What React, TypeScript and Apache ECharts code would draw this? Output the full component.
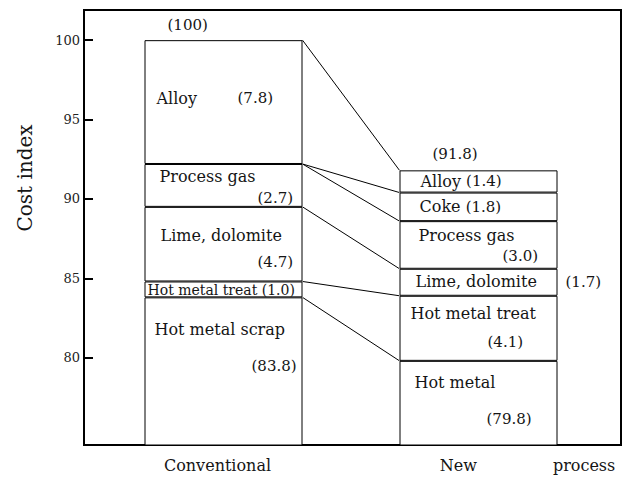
import React, { useEffect, useRef } from 'react';
import * as echarts from 'echarts';

// ---------- data ----------
const categories = ['Conventional', 'New process'];
const segmentNames = ['Hot metal scrap', 'Hot metal', 'Hot metal treat', 'Lime, dolomite', 'Process gas', 'Coke', 'Alloy'];
const conventionalValues: (number | null)[] = [83.8, null, 1.0, 4.7, 2.7, null, 7.8];
const newProcessValues: (number | null)[] = [null, 79.8, 4.1, 1.7, 3.0, 1.8, 1.4];
const yTickValues = [80, 85, 90, 95, 100];
const yMin = 74.5;
const yMax = 101.9;
// connector lines: top of segment in Conventional -> top of segment in New process
const linkPairs: [string, string][] = [
  ['Alloy', 'Alloy'],
  ['Process gas', 'Coke'],
  ['Process gas', 'Process gas'],
  ['Lime, dolomite', 'Lime, dolomite'],
  ['Hot metal treat', 'Hot metal treat'],
  ['Hot metal scrap', 'Hot metal'],
];

// ---------- style ----------
const FONT = '"DejaVu Serif", "Liberation Serif", serif';
const INK = '#151515';
const BAR_W = 158;
const NAME_SIZE = 16;
const VALUE_SIZE = 15;

type LabelSpec = { dx: number; cy: number; vdx?: number; vcy?: number; size?: number; joined?: boolean } | null;
const labelLayout: Record<string, [LabelSpec, LabelSpec]> = {
  'Hot metal scrap': [{ dx: 10, cy: 32, vdx: 107, vcy: 69 }, null],
  'Hot metal': [null, { dx: 15, cy: 22, vdx: 87, vcy: 58 }],
  'Hot metal treat': [{ dx: 3, cy: 9, size: 14, joined: true }, { dx: 11, cy: 18, vdx: 88, vcy: 46 }],
  'Lime, dolomite': [{ dx: 16, cy: 29, vdx: 113, vcy: 55 }, { dx: 16, cy: 13, vdx: 166, vcy: 13 }],
  'Process gas': [{ dx: 15, cy: 13, vdx: 113, vcy: 34 }, { dx: 19, cy: 14, vdx: 103, vcy: 35 }],
  'Coke': [null, { dx: 20, cy: 14, joined: true }],
  'Alloy': [{ dx: 12, cy: 58, vdx: 93, vcy: 58 }, { dx: 21, cy: 11, joined: true }],
};
const totalDx = [23, 33];
const totalDy = [-15, -16];

function fmt(v: number) {
  const r = Math.round(v * 10) / 10;
  return Number.isInteger(r) ? String(r) : r.toFixed(1);
}

function buildLabel(name: string, value: number, spec: LabelSpec) {
  if (!spec) return { show: false };
  const vText = `(${value.toFixed(1)})`;
  const nStyle = { fontFamily: FONT, fontSize: spec.size ?? NAME_SIZE, color: INK };
  const vStyle = { fontFamily: FONT, fontSize: spec.size ?? VALUE_SIZE, color: INK };
  const common = { show: true, position: 'insideTopLeft', distance: 0, color: INK, textBorderWidth: 0 };
  if (spec.joined) {
    const L = 20;
    return {
      ...common,
      offset: [spec.dx, spec.cy - L / 2],
      formatter: `{n|${name} }{v|${vText}}`,
      rich: { n: { ...nStyle, lineHeight: L }, v: { ...vStyle, lineHeight: L } },
    };
  }
  if (spec.vcy === spec.cy) {
    const L = 20;
    return {
      ...common,
      offset: [spec.dx, spec.cy - L / 2],
      formatter: `{n|${name}}{v|${vText}}`,
      rich: { n: { ...nStyle, lineHeight: L, width: (spec.vdx as number) - spec.dx }, v: { ...vStyle, lineHeight: L } },
    };
  }
  const L = (spec.vcy as number) - spec.cy;
  return {
    ...common,
    offset: [spec.dx, spec.cy - L / 2],
    formatter: `{n|${name}}\n{v|${vText}}`,
    rich: {
      n: { ...nStyle, lineHeight: L },
      v: { ...vStyle, lineHeight: L, padding: [0, 0, 0, (spec.vdx as number) - spec.dx] },
    },
  };
}

export default function App() {
  const ref = useRef<HTMLDivElement>(null);

  useEffect(() => {
    document.body.style.margin = '0';
    if (!ref.current) return;
    const chart = echarts.init(ref.current, null, { renderer: 'svg' });

    const columns = [conventionalValues, newProcessValues];
    // segment tops per category
    const tops: Record<string, number>[] = columns.map((col) => {
      let acc = 0;
      const t: Record<string, number> = {};
      segmentNames.forEach((n, i) => {
        const v = col[i];
        if (v != null) {
          acc += v;
          t[n] = acc;
        }
      });
      return t;
    });
    const totals = columns.map((col) => col.reduce((s: number, v) => s + (v ?? 0), 0));
    const linkData = linkPairs.map(([a, b]) => [0, tops[0][a], tops[1][b]]);

    const barSeries = segmentNames.map((name, si) => ({
      name,
      type: 'bar',
      stack: 'cost',
      xAxisIndex: 1,
      yAxisIndex: 1,
      barWidth: BAR_W,
      clip: true,
      itemStyle: { color: '#ffffff', borderColor: '#000', borderWidth: 1 },
      emphasis: { disabled: true },
      data: columns.map((col, ci) => {
        const v = col[si];
        if (v == null) return '-';
        return { value: v, label: buildLabel(name, v, labelLayout[name][ci]) };
      }),
    }));

    const nameParts = categories[1].split(' ');

    chart.setOption({
      animation: false,
      backgroundColor: '#ffffff',
      grid: [
        { left: 84, right: 8, top: 10, bottom: 36, show: true, borderColor: '#000', borderWidth: 2, backgroundColor: 'transparent' },
        { left: 96, right: 23, top: 10, bottom: 36 },
      ],
      xAxis: [
        { gridIndex: 0, type: 'category', show: false, data: [] },
        {
          gridIndex: 1,
          type: 'category',
          data: categories,
          axisLine: { show: false },
          axisTick: { show: false },
          axisLabel: {
            margin: 12,
            color: INK,
            formatter: (v: string) => (v === categories[0] ? `{a|${v}}` : `{b|${nameParts[0]}}{c|${nameParts.slice(1).join(' ')}}`),
            rich: {
              a: { fontFamily: FONT, fontSize: 16, color: INK, padding: [0, 12, 0, 0] },
              b: { fontFamily: FONT, fontSize: 16, color: INK, padding: [0, 0, 0, 98] },
              c: { fontFamily: FONT, fontSize: 16, color: INK, padding: [0, 0, 0, 76] },
            },
          },
        },
      ],
      yAxis: [
        {
          gridIndex: 0,
          type: 'value',
          min: yMin,
          max: yMax,
          axisLine: { show: true, lineStyle: { color: '#000', width: 2 } },
          axisTick: { show: true, inside: true, length: 9, lineStyle: { color: '#000', width: 2 }, customValues: yTickValues },
          axisLabel: { customValues: yTickValues, fontFamily: FONT, fontSize: 13, color: '#222', margin: 4 },
          splitLine: { show: false },
        },
        { gridIndex: 1, type: 'value', min: yMin, max: yMax, show: false, splitLine: { show: false } },
      ],
      graphic: [
        {
          type: 'text',
          x: 25,
          y: 178,
          rotation: Math.PI / 2,
          style: { text: 'Cost index', font: `20px ${FONT}`, fill: INK, textAlign: 'center', textVerticalAlign: 'middle' },
        },
      ],
      series: [
        ...barSeries,
        {
          type: 'custom',
          name: 'links',
          xAxisIndex: 1,
          yAxisIndex: 1,
          z: 5,
          silent: true,
          encode: { x: 0, y: 1 },
          data: linkData,
          renderItem: (params: any, api: any) => {
            const a = api.coord([0, api.value(1)]);
            const b = api.coord([1, api.value(2)]);
            return {
              type: 'line',
              shape: { x1: a[0] + BAR_W / 2, y1: a[1], x2: b[0] - BAR_W / 2, y2: b[1] },
              style: { stroke: '#000', lineWidth: 1 },
            };
          },
        },
        {
          type: 'custom',
          name: 'totals',
          xAxisIndex: 1,
          yAxisIndex: 1,
          z: 5,
          silent: true,
          encode: { x: 0, y: 1 },
          data: totals.map((t, i) => [i, t]),
          renderItem: (params: any, api: any) => {
            const i = params.dataIndex;
            const p = api.coord([i, api.value(1)]);
            return {
              type: 'text',
              x: p[0] - BAR_W / 2 + totalDx[i],
              y: p[1] + totalDy[i],
              style: { text: `(${fmt(totals[i])})`, font: `15px ${FONT}`, fill: INK, textAlign: 'left', textVerticalAlign: 'middle' },
            };
          },
        },
      ],
    });

    return () => chart.dispose();
  }, []);

  return <div ref={ref} style={{ width: 629, height: 481 }} />;
}
